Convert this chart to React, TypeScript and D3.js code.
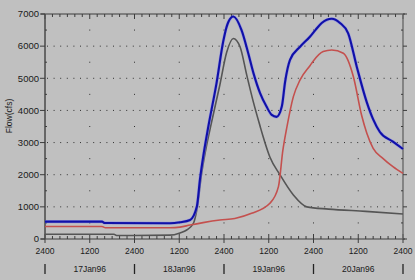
import React from "react";
import * as d3 from "d3";

// hours since 17Jan96 0000 (shown as "2400")
const blueT = [0, 15.3, 16.0, 33.5, 36.2, 38.9, 40.7, 41.6, 42.4, 43.8, 46.0, 47.8, 48.7, 49.2, 50.5, 52.7, 54.5, 55.9, 57.7, 59.4, 60.8, 62.1, 63.5, 64.4, 65.7, 68.4, 71.1, 72.5, 74.2, 76.9, 79.1, 81.3, 83.6, 86.3, 88.0, 89.8, 93.3, 96];
const blueV = [540, 540, 500, 490, 520, 590, 1000, 1900, 2550, 3500, 4850, 6150, 6600, 6760, 6920, 6500, 5780, 5160, 4530, 4120, 3860, 3800, 4120, 4900, 5570, 5980, 6300, 6500, 6720, 6850, 6720, 6400, 5360, 4250, 3720, 3330, 3030, 2800];

const redT = [0, 15.3, 16.2, 33.5, 36.2, 38.9, 42.4, 46.9, 50.9, 55.4, 60.3, 62.6, 63.8, 64.8, 66.6, 68.4, 71.1, 71.9, 74.6, 76.9, 80.0, 82.7, 84.9, 86.3, 88.0, 90.6, 93.3, 96];
const redV = [390, 390, 350, 350, 370, 435, 510, 590, 640, 800, 1110, 1630, 2770, 3440, 4430, 4950, 5400, 5530, 5830, 5880, 5780, 5050, 3850, 3290, 2820, 2510, 2250, 2040];

const grayT = [0, 18.5, 19.2, 33.5, 36.2, 38.0, 39.8, 40.7, 42.0, 43.4, 44.6, 46.9, 48.7, 50.5, 52.3, 54.1, 55.9, 57.7, 58.5, 60.3, 63.0, 66.6, 70.2, 76, 86, 96];
const grayV = [150, 150, 110, 120, 190, 280, 490, 900, 2040, 2950, 3600, 4800, 5800, 6240, 5980, 5100, 4250, 3500, 3180, 2550, 2000, 1370, 1000, 930, 860, 780];

const yTicks = [0, 1000, 2000, 3000, 4000, 5000, 6000, 7000];
const xTickHours = [0, 12, 24, 36, 48, 60, 72, 84, 96];
const xTickLabels = ["2400", "1200", "2400", "1200", "2400", "1200", "2400", "1200", "2400"];
const dayLabels = ["17Jan96", "18Jan96", "19Jan96", "20Jan96"];

export default function App() {
  const W = 415, H = 280;
  const x = d3.scaleLinear().domain([0, 96]).range([45, 403]);
  const y = d3.scaleLinear().domain([0, 7000]).range([239, 14]);
  const mk = (ts: number[], vs: number[]) =>
    d3.line<number>().x((_, i) => x(ts[i])).y((v) => y(v)).curve(d3.curveMonotoneX)(vs) || "";

  const minorX = d3.range(0, 97, 2);
  const halfY = d3.range(500, 7000, 1000);
  const axisCol = "#3c3c3c";

  return (
    <div style={{ position: "fixed", left: 0, top: 0 }}>
      <svg width={W} height={H} style={{ display: "block", background: "#c0c0c0" }} fontFamily="'Liberation Sans', Arial, sans-serif">
        <rect width={W} height={H} fill="#c0c0c0" />
        {/* horizontal dotted grid */}
        {yTicks.slice(1, -1).map((v) => (
          <line key={"hg" + v} x1={47} x2={402} y1={y(v)} y2={y(v)} stroke="#303030" strokeWidth={1} strokeDasharray="1 5.6" />
        ))}
        {/* vertical dotted grid (dots at half-thousands) */}
        {xTickHours.slice(1, -1).map((h) =>
          halfY.map((v) => (
            <rect key={"vg" + h + "-" + v} x={x(h) - 0.5} y={y(v) - 0.5} width={1} height={1} fill="#303030" />
          ))
        )}
        {/* top axis */}
        <line x1={41} x2={405} y1={14} y2={14} stroke={axisCol} strokeWidth={1} />
        {minorX.map((h) => (
          <line key={"tt" + h} x1={x(h)} x2={x(h)} y1={14} y2={h % 12 === 0 ? 19 : 17} stroke={axisCol} strokeWidth={1} />
        ))}
        {/* bottom axis */}
        <line x1={41} x2={405} y1={239} y2={239} stroke={axisCol} strokeWidth={1.2} />
        {minorX.map((h) => (
          <line key={"bt" + h} x1={x(h)} x2={x(h)} y1={h % 12 === 0 ? 234 : 236} y2={h % 12 === 0 ? 243 : 239} stroke={axisCol} strokeWidth={1} />
        ))}
        {/* left axis */}
        <line x1={45} x2={45} y1={14} y2={239} stroke="#505050" strokeWidth={1.6} />
        {yTicks.map((v) => (
          <line key={"ly" + v} x1={40} x2={45} y1={y(v)} y2={y(v)} stroke={axisCol} strokeWidth={1} />
        ))}
        {halfY.map((v) => (
          <line key={"lh" + v} x1={45} x2={47} y1={y(v)} y2={y(v)} stroke={axisCol} strokeWidth={1} />
        ))}
        {/* right axis */}
        <line x1={403} x2={403} y1={14} y2={239} stroke="#6a6a6a" strokeWidth={1.4} />
        {yTicks.map((v) => (
          <line key={"ry" + v} x1={403} x2={407} y1={y(v)} y2={y(v)} stroke={axisCol} strokeWidth={1} />
        ))}
        {halfY.map((v) => (
          <line key={"rh" + v} x1={401} x2={403} y1={y(v)} y2={y(v)} stroke={axisCol} strokeWidth={1} />
        ))}
        {/* y tick labels */}
        {yTicks.map((v) => (
          <text key={"yl" + v} x={39} y={y(v)} dy="0.35em" textAnchor="end" fontSize={9.5} fill="#1a1a1a">{v}</text>
        ))}
        <text transform="translate(12,116) rotate(-90)" textAnchor="middle" fontSize={8.5} fill="#1a1a1a">Flow(cfs)</text>
        {/* x tick labels */}
        {xTickHours.map((h, i) => (
          <text key={"xl" + i} x={x(h)} y={251} dy="0.35em" textAnchor="middle" fontSize={8.5} fill="#1a1a1a">{xTickLabels[i]}</text>
        ))}
        {/* day separators and labels */}
        {[0, 24, 48, 72, 96].map((h) => (
          <line key={"ds" + h} x1={x(h)} x2={x(h)} y1={264} y2={274} stroke="#222" strokeWidth={1.3} />
        ))}
        {dayLabels.map((d, i) => (
          <text key={d} x={x(i * 24 + 12)} y={269} dy="0.35em" textAnchor="middle" fontSize={8.5} fill="#1a1a1a">{d}</text>
        ))}
        {/* series */}
        <path d={mk(grayT, grayV)} fill="none" stroke="#555555" strokeWidth={1.6} />
        <path d={mk(redT, redV)} fill="none" stroke="#c4504e" strokeWidth={1.6} />
        <path d={mk(blueT, blueV)} fill="none" stroke="#8080f0" strokeWidth={3.2} opacity={0.55} />
        <path d={mk(blueT, blueV)} fill="none" stroke="#1010a8" strokeWidth={2.1} />
      </svg>
    </div>
  );
}
